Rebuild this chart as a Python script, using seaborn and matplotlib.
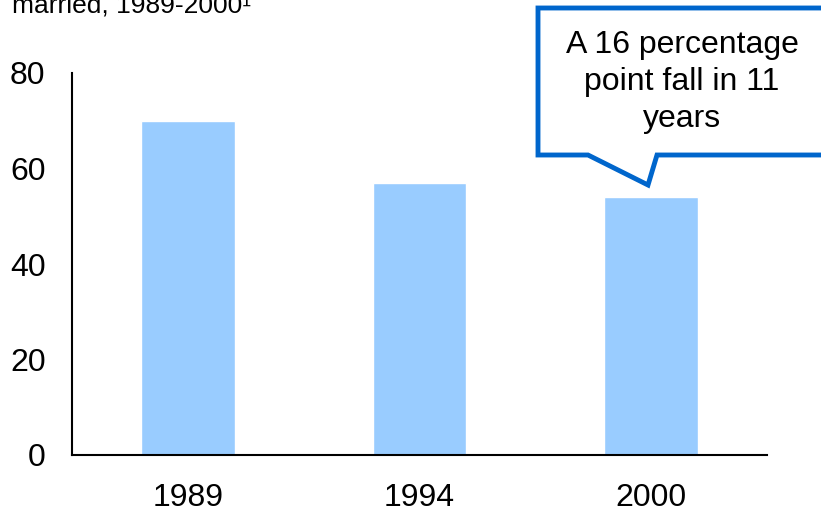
import matplotlib
matplotlib.use("Agg")
import matplotlib.pyplot as plt
import seaborn as sns
import pandas as pd
from matplotlib.patches import Polygon

# Chart data
years = ["1989", "1994", "2000"]
shares = [70, 57, 54]
y_ticks = [0, 20, 40, 60, 80]
title_text = "married, 1989-2000\u00b9"
callout_text = "A 16 percentage\npoint fall in 11\nyears"

BAR_COLOR = "#99CCFF"
CALLOUT_COLOR = "#0066CC"
W, H = 821, 512

sns.set_theme(style="white")
plt.rcParams["font.family"] = ["Liberation Sans", "DejaVu Sans"]

df = pd.DataFrame({"year": years, "share": shares})

fig = plt.figure(figsize=(W / 100, H / 100), dpi=100)
ax = fig.add_axes([72 / W, 1 - 455 / H, 695 / W, 382 / H])

sns.barplot(data=df, x="year", y="share", color=BAR_COLOR, width=0.405,
            saturation=1, ax=ax)

ax.set_xlim(-0.5, 2.5)
ax.set_ylim(0, 80)
ax.set_yticks(y_ticks)
ax.set_xlabel("")
ax.set_ylabel("")
ax.tick_params(axis="both", length=0, labelsize=23, colors="black")
ax.tick_params(axis="x", pad=20)
ax.tick_params(axis="y", pad=19)
for s in ["top", "right"]:
    ax.spines[s].set_visible(False)
for s in ["left", "bottom"]:
    ax.spines[s].set_color("black")
    ax.spines[s].set_linewidth(1.5)

# clipped title line at top
fig.text(12 / W, 1 - 12 / H, title_text, fontsize=19, ha="left",
         va="baseline", color="black")

# speech-bubble callout
def px(x, y):
    return (x / W, 1 - y / H)

pts = [px(538, 8), px(830, 8), px(830, 155), px(657, 155),
       px(648, 185), px(588, 155), px(538, 155)]
bubble = Polygon(pts, closed=True, facecolor="white", edgecolor=CALLOUT_COLOR,
                 linewidth=3.5, transform=fig.transFigure, clip_on=False,
                 joinstyle="miter")
fig.patches.append(bubble)
fig.text(682 / W, 1 - 82 / H, callout_text, fontsize=23, ha="center",
         va="center", linespacing=1.29, color="black")

fig.savefig("out.png", dpi=100)
